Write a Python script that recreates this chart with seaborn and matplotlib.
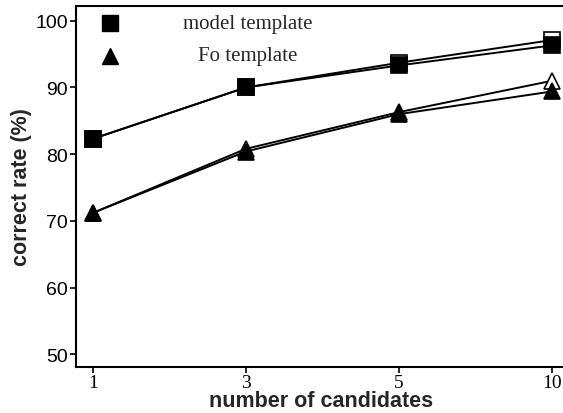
import matplotlib
matplotlib.use("Agg")
import matplotlib.pyplot as plt
import seaborn as sns
import pandas as pd

candidates = ["1", "3", "5", "10"]
model_filled = [82.3, 90.0, 93.3, 96.3]
model_open = [82.3, 90.0, 93.7, 97.1]
fo_filled = [71.2, 80.4, 86.0, 89.4]
fo_open = [71.2, 80.8, 86.3, 91.0]
yticks = [50, 60, 70, 80, 90, 100]

sns.set_theme(style="ticks")
plt.rcParams["font.family"] = ["Liberation Sans", "DejaVu Sans"]

fig = plt.figure(figsize=(5.63, 4.14), dpi=100)
ax = fig.add_axes([0.135, 0.111, 0.87, 0.872])

pos = list(range(len(candidates)))
series = [
    (model_open, "s", "white"),
    (model_filled, "s", "black"),
    (fo_open, "^", "white"),
    (fo_filled, "^", "black"),
]
for vals, mk, fc in series:
    df = pd.DataFrame({"x": pos, "y": vals})
    sns.lineplot(data=df, x="x", y="y", ax=ax, color="black", lw=1.4,
                 marker=mk, markersize=12 if mk == "s" else 11,
                 markerfacecolor=fc, markeredgecolor="black",
                 markeredgewidth=1.2, clip_on=False)

ax.set_xlim(-0.11, 3.09)
ax.set_ylim(48.1, 102.2)
ax.set_xticks(pos)
ax.set_xticklabels(candidates, family="Liberation Serif", fontsize=14)
ax.set_yticks(yticks)
ax.set_yticklabels([str(v) for v in yticks], fontsize=14)
ax.tick_params(axis="both", direction="out", length=4, width=1.2, colors="black", pad=2)
ax.tick_params(axis="x", pad=1)
for s in ["left", "bottom", "top", "right"]:
    ax.spines[s].set_linewidth(1.5)
    ax.spines[s].set_color("black")

ax.set_xlabel("number of candidates", fontsize=15.5, fontweight="bold", labelpad=-1)
ax.set_ylabel("correct rate (%)", fontsize=15.5, fontweight="bold", labelpad=2)

# legend
ax.plot([0.07], [0.952], transform=ax.transAxes, marker="s", ms=11, color="black", ls="none", clip_on=False)
ax.plot([0.07], [0.862], transform=ax.transAxes, marker="^", ms=11, color="black", ls="none", clip_on=False)
ax.text(0.35, 0.952, "model template", transform=ax.transAxes, ha="center", va="center",
        family="Liberation Serif", fontsize=15)
ax.text(0.35, 0.862, "Fo template", transform=ax.transAxes, ha="center", va="center",
        family="Liberation Serif", fontsize=15)

fig.savefig("out.png", dpi=100)
